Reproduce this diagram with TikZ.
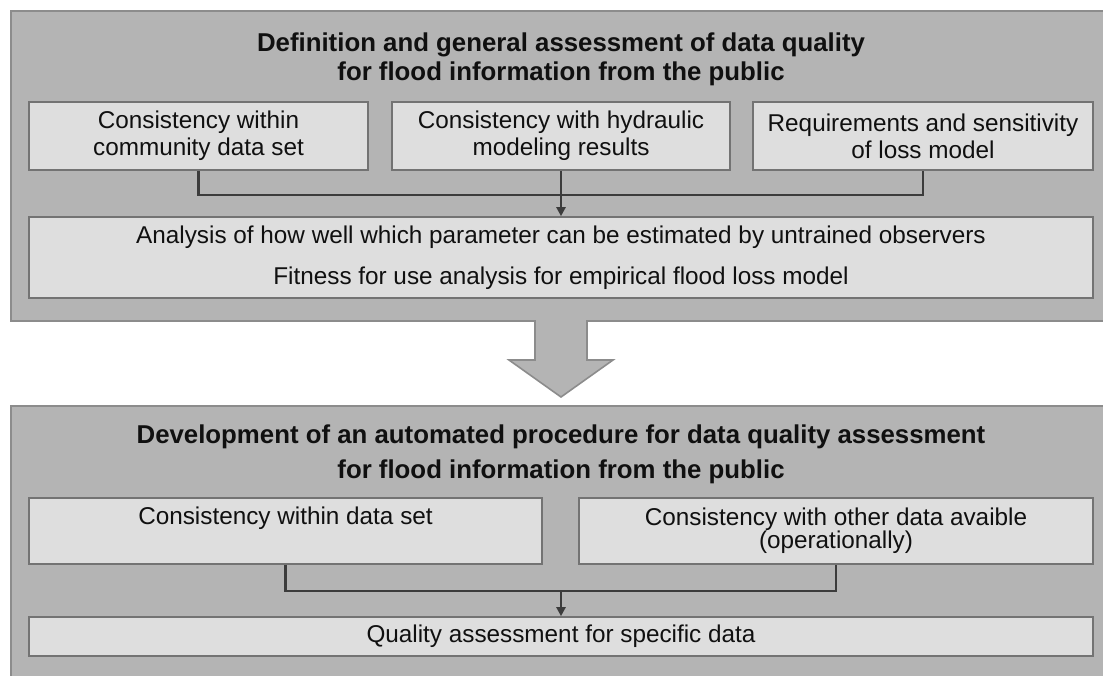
\documentclass[tikz,border=0pt]{standalone}
\usepackage{fontspec}
\setmainfont{Liberation Sans}
\usetikzlibrary{arrows.meta}
\definecolor{panelgray}{HTML}{B4B4B4}
\definecolor{panelline}{HTML}{8C8C8C}
\definecolor{boxgray}{HTML}{DEDEDE}
\definecolor{boxline}{HTML}{737373}
\definecolor{linkgray}{HTML}{3C3C3C}
\definecolor{inkgray}{HTML}{101010}
\tikzset{
  panel/.style={draw=panelline, line width=1.6pt, fill=panelgray, anchor=north west, inner sep=0pt},
  box/.style={draw=boxline, line width=1.6pt, fill=boxgray, inner sep=0pt, align=center, text=inkgray},
  headline/.style={align=center, text=inkgray, font=\fontsize{25.8}{29}\selectfont\bfseries},
  link/.style={draw=linkgray, line width=2.2pt},
  tip/.style={-{Triangle[length=9pt,width=9pt]}}
}
\def\bigarrow{(535,320) -- (535,360) -- (509,360) -- (561,397) -- (613,360) -- (587,360) -- (587,320)}
\begin{document}
\begin{tikzpicture}[x=1pt, y=-1pt]
  \useasboundingbox[fill=white] (0,0) rectangle (1103,675);
  \node[panel, minimum width=1100pt, minimum height=310pt] (topPanel) at (10,10) {};
  \node[panel, minimum width=1100pt, minimum height=280pt] (botPanel) at (10,405) {};
  \fill[panelgray] \bigarrow -- cycle;
  \draw[panelline, line width=1.6pt, line join=miter] \bigarrow;

  \node[headline] (defTitle) at (561,59) {Definition and general assessment of data quality\\for flood information from the public};
  \begin{scope}[every node/.append style={font=\fontsize{24.3}{27}\selectfont}]
    \node[box, minimum width=339pt, minimum height=68pt] (cA) at (198.5,136) {Consistency within\\community data set};
    \node[box, minimum width=338pt, minimum height=68pt] (cB) at (561,136) {Consistency with hydraulic\\modeling results};
    \node[box, minimum width=340pt, minimum height=68pt] (cC) at (923,136) {Requirements and sensitivity\\of loss model};
  \end{scope}
  \node[box, minimum width=1064pt, minimum height=81pt, font=\fontsize{24.3}{41}\selectfont] (anaBox) at (561,257.5)
    {Analysis of how well which parameter can be estimated by untrained observers\\Fitness for use analysis for empirical flood loss model};
  \draw[link] (cA.south) -- ++(0,24) -| (cC.south);
  \draw[link, tip] (cB.south) -- (anaBox.north);

  \node[headline, font=\fontsize{25.8}{35}\selectfont\bfseries] (devTitle) at (561,454) {Development of an automated procedure for data quality assessment\\for flood information from the public};
  \begin{scope}[every node/.append style={font=\fontsize{24.3}{23}\selectfont}]
    \node[box, minimum width=513pt, minimum height=66pt] (dA) at (285.5,531) {Consistency within data set\\\strut};
    \node[box, minimum width=514pt, minimum height=66pt] (dB) at (836,531) {Consistency with other data avaible\\(operationally)};
    \node[box, minimum width=1064pt, minimum height=39pt] (qBox) at (561,636.5) {Quality assessment for specific data};
  \end{scope}
  \draw[link] (dA.south) -- ++(0,26) -| (dB.south);
  \draw[link, tip] (qBox.north |- dA.south) ++(0,26) -- (qBox.north);
\end{tikzpicture}
\end{document}
